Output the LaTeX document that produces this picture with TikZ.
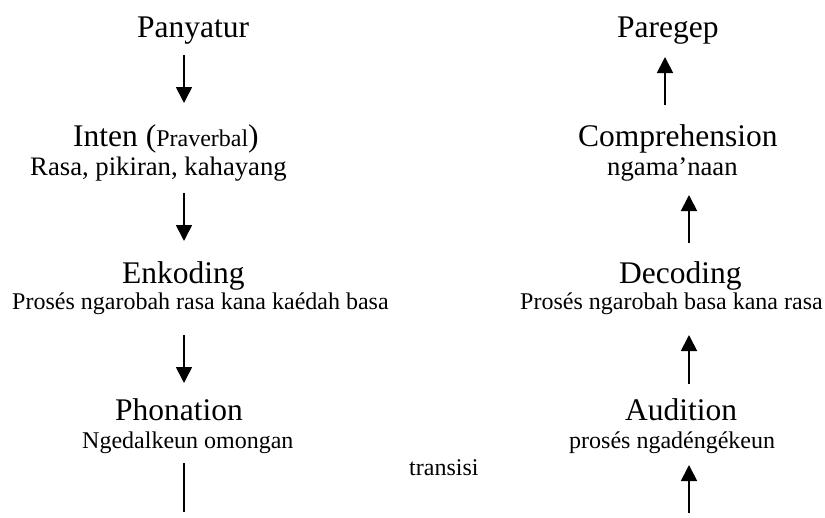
\documentclass[tikz,border=0pt]{standalone}
\usepackage{fontspec}
\setmainfont{Liberation Serif}
\usetikzlibrary{arrows.meta}
\begin{document}
\begin{tikzpicture}[x=1pt,y=-1pt,
  txt/.style={inner sep=0pt, anchor=base west},
  ttl/.style={txt, font=\fontsize{31.5}{36}\selectfont},
  sub/.style={txt, font=\fontsize{24}{28}\selectfont},
  subl/.style={txt, font=\fontsize{26.7}{30}\selectfont},
  flow/.style={line width=1.8pt, -{Triangle[width=16pt,length=16pt]}},
  plain/.style={line width=1.8pt}]
\useasboundingbox (0,0) rectangle (825,517);
% left column
\node[ttl] (panyatur) at (137,37) {Panyatur};
\node[ttl] (inten) at (73,146) {Inten ({\fontsize{24}{28}\selectfont Praverbal})};
\node[subl] (rasa) at (30,175) {Rasa, pikiran, kahayang};
\node[ttl] (enkoding) at (122,283) {Enkoding};
\node[sub] (enksub) at (12,309) {Prosés ngarobah rasa kana kaédah basa};
\node[ttl] (phonation) at (115,420) {Phonation};
\node[sub] (phonsub) at (82,448) {Ngedalkeun omongan};
% middle
\node[sub] (transisi) at (409,475) {transisi};
% right column
\node[ttl] (paregep) at (617,37) {Paregep};
\node[ttl] (compr) at (578,146) {Comprehension};
\node[subl] (comprsub) at (607,175) {ngama’naan};
\node[ttl] (decoding) at (619,283) {Decoding};
\node[sub] (decsub) at (520,309) {Prosés ngarobah basa kana rasa};
\node[ttl] (audition) at (625,420) {Audition};
\node[sub] (audsub) at (569,448) {prosés ngadéngékeun};
% arrow end points
\coordinate (l1a) at (184,55);  \coordinate (l1b) at (184,103);
\coordinate (l2a) at (184,193); \coordinate (l2b) at (184,241);
\coordinate (l3a) at (184,335); \coordinate (l3b) at (184,383);
\coordinate (l4a) at (184,463); \coordinate (l4b) at (184,512);
\coordinate (r1a) at (665,105); \coordinate (r1b) at (665,57);
\coordinate (r2a) at (689,243); \coordinate (r2b) at (689,195);
\coordinate (r3a) at (689,384); \coordinate (r3b) at (689,335);
\coordinate (r4a) at (689,513); \coordinate (r4b) at (689,465);
\draw[flow] (l1a) -- (l1b);
\draw[flow] (l2a) -- (l2b);
\draw[flow] (l3a) -- (l3b);
\draw[plain] (l4a) -- (l4b);
\draw[flow] (r1a) -- (r1b);
\draw[flow] (r2a) -- (r2b);
\draw[flow] (r3a) -- (r3b);
\draw[flow] (r4a) -- (r4b);
\end{tikzpicture}
\end{document}
